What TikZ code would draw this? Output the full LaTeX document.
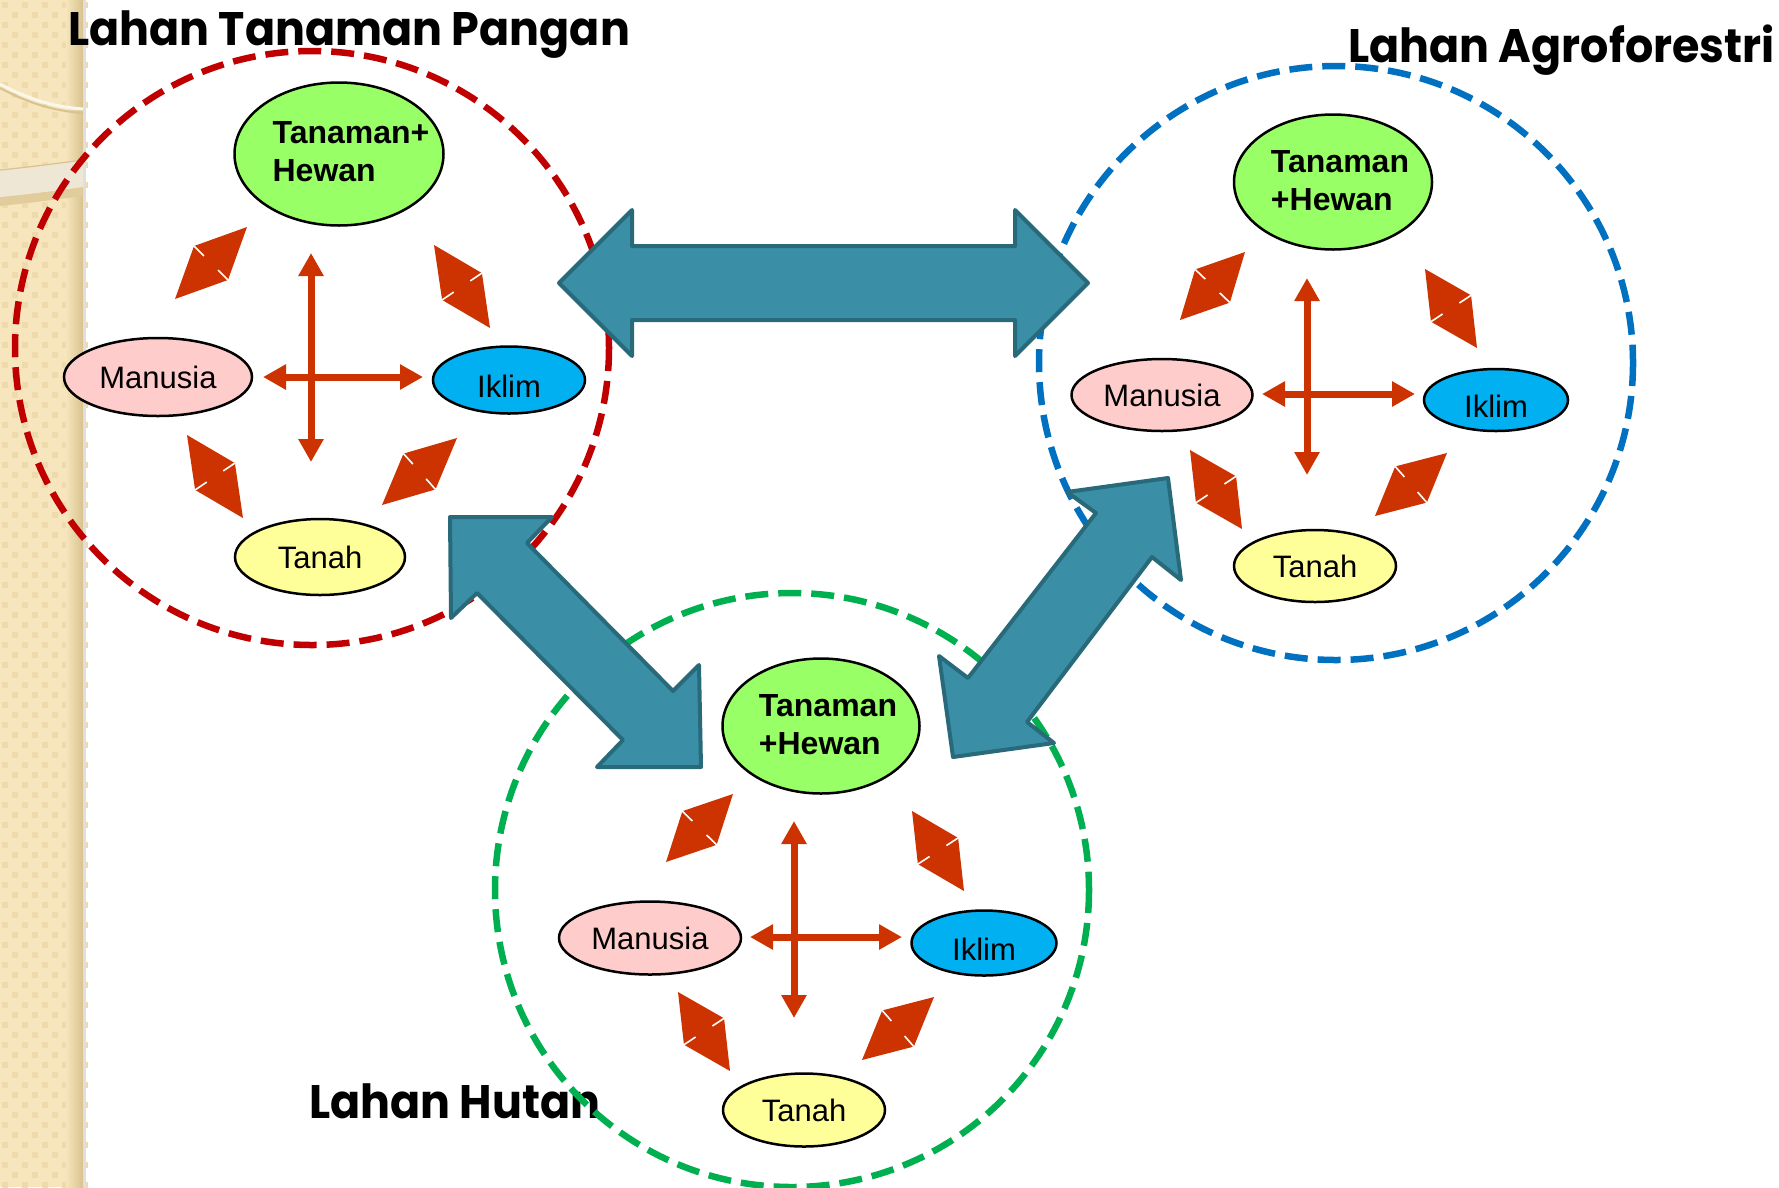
\documentclass[tikz,border=0pt]{standalone}
\usepackage{fontspec}
\setmainfont{Liberation Sans}
\newfontfamily\titlefont{Poppins}[FakeStretch=0.945]
\usetikzlibrary{shapes.geometric,arrows.meta,calc}
\definecolor{redc}{HTML}{C00000}
\definecolor{bluec}{HTML}{0070C0}
\definecolor{greenc}{HTML}{00B050}
\definecolor{arr}{HTML}{CC3300}
\definecolor{bigfill}{HTML}{3A8FA6}
\definecolor{bigline}{HTML}{286A7A}
\definecolor{tgreen}{HTML}{99FF66}
\definecolor{tpink}{HTML}{FFCCCC}
\definecolor{tblue}{HTML}{00B0F0}
\definecolor{tyellow}{HTML}{FFFF99}
\definecolor{stripc}{HTML}{F6E5BD}
\definecolor{stripd}{HTML}{EEDAAB}
\definecolor{stripe}{HTML}{D8C28E}
\definecolor{bandc}{HTML}{EEE7D5}
\tikzset{
  ring/.style={dash pattern=on 23pt off 10pt, line width=6.5pt},
  oval/.style={ellipse, draw=black, line width=2.5pt, inner sep=0pt,
    font=\fontsize{31}{37}\selectfont},
  ikl/.style={oval, fill=tblue, text height=34pt},
  boldtxt/.style={inner sep=0pt, font=\bfseries\fontsize{32}{38}\selectfont, align=left},
  crossarr/.style={draw=arr, line width=7pt, >={Triangle[width=24pt,length=23pt]}, <->},
  bigarr/.style={fill=bigfill, draw=bigline, line width=4pt, line join=round},
  ttl/.style={font=\titlefont\bfseries\fontsize{47}{50}\selectfont, anchor=base west, inner sep=0pt},
}
\newcommand\mydiamond[2]{%
  \coordinate (dm) at ($(#1)!0.5!(#2)$);
  \coordinate (ds1) at ($(dm)!24pt!90:(#2)$);
  \coordinate (ds2) at ($(dm)!24pt!-90:(#2)$);
  \fill[arr] (#1) -- (ds1) -- (#2) -- (ds2) -- cycle;
  \draw[white, line width=1.6pt] (ds1) -- ($(ds1)!14pt!(dm)$);
  \draw[white, line width=1.6pt] (ds2) -- ($(ds2)!14pt!(dm)$);
}
\begin{document}
\begin{tikzpicture}[x=1pt,y=-1pt]
\useasboundingbox (0,0) rectangle (1779,1187);
\fill[white] (0,0) rectangle (1779,1187);
% ---- decorative strip on the left
\fill[stripc] (0,0) rectangle (83,1187);
\foreach \i in {0,...,8}{
  \foreach \j in {0,...,118}{
    \pgfmathtruncatemacro\myparity{mod(\i+\j,2)}
    \ifnum\myparity=0
      \fill[stripd] (\i*10+2,\j*10+2) rectangle +(6,6);
    \fi
  }
}
\shade[left color=stripc, right color=stripe] (66,0) rectangle (83,1187);
\fill[gray!25] (83,0) rectangle (86,1187);
\draw[stripe, line width=2pt] (0,88) .. controls (30,104) and (55,111) .. (83,113);
\draw[white!70!stripc, line width=3pt] (0,84) .. controls (30,100) and (55,107) .. (83,109);
\fill[stripe!70!stripc] (0,197) .. controls (30,194) and (60,190) .. (83,187)
   -- (83,196) .. controls (60,199) and (30,203) .. (0,206) -- cycle;
\fill[bandc] (0,170) .. controls (30,167) and (60,163) .. (83,160)
   -- (83,187) .. controls (60,190) and (30,194) .. (0,197) -- cycle;
\draw[stripe, line width=1.2pt] (0,170) .. controls (30,167) and (60,163) .. (83,160);
% ---- titles
\node[ttl] (t1) at (68,45) {Lahan Tanaman Pangan};
\node[ttl] (t2) at (1348,62) {Lahan Agroforestri};
\node[ttl] (t3) at (309,1118) {Lahan Hutan};
% ---- dashed rings
\draw[ring, redc] (312,348) circle (297);
\draw[ring, bluec] (1336,363) circle (297);
\draw[ring, greenc] (792,890) circle (297);
% ---- big connecting arrows
\draw[bigarr] (559,283) -- (632,210) -- (632,246) -- (1015,246) -- (1015,210)
  -- (1088,283) -- (1015,356) -- (1015,320) -- (632,320) -- (632,356) -- cycle;
\draw[bigarr] (450,517) -- (552,517) -- (527,543) -- (673,691) -- (699,665)
  -- (701,767) -- (597,767) -- (623,740) -- (477,593) -- (451,618) -- cycle;
\draw[bigarr] (1168,478) -- (1067,492) -- (1096,513) -- (968,678) -- (939,656)
  -- (953,757) -- (1054,743) -- (1027,722) -- (1152,557) -- (1181,580) -- cycle;
% ================= left panel
\node[oval, fill=tgreen, minimum width=209pt, minimum height=143pt] (LT) at (339,154) {};
\node[boldtxt] (LTtxt) at (351,152) {Tanaman+\\Hewan};
\node[oval, fill=tpink, minimum width=188pt, minimum height=78pt] (LM) at (158,377) {Manusia};
\node[ikl, minimum width=152pt, minimum height=67pt] (LI) at (509,380) {Iklim};
\node[oval, fill=tyellow, minimum width=170pt, minimum height=76pt] (LS) at (320,557) {Tanah};
\coordinate (Lup) at (311,253); \coordinate (Ldn) at (311,462);
\coordinate (Llf) at (263,377); \coordinate (Lrt) at (423,377);
\draw[crossarr] (Lup) -- (Ldn);
\draw[crossarr] (Llf) -- (Lrt);
\coordinate (La1) at (247,227); \coordinate (La2) at (175,299);
\coordinate (Lb1) at (434,245); \coordinate (Lb2) at (490,328);
\coordinate (Lc1) at (187,435); \coordinate (Lc2) at (243,518);
\coordinate (Ld1) at (457,438); \coordinate (Ld2) at (382,505);
\mydiamond{La1}{La2}
\mydiamond{Lb1}{Lb2}
\mydiamond{Lc1}{Lc2}
\mydiamond{Ld1}{Ld2}
% ================= right panel
\node[oval, fill=tgreen, minimum width=198pt, minimum height=135pt] (RT) at (1333,182) {};
\node[boldtxt] (RTtxt) at (1340,181) {Tanaman\\+Hewan};
\node[oval, fill=tpink, minimum width=181pt, minimum height=72pt] (RM) at (1162,395) {Manusia};
\node[ikl, minimum width=144pt, minimum height=62pt] (RI) at (1496,400) {Iklim};
\node[oval, fill=tyellow, minimum width=162pt, minimum height=72pt] (RS) at (1315,566) {Tanah};
\coordinate (Rup) at (1307,278); \coordinate (Rdn) at (1307,475);
\coordinate (Rlf) at (1262,394); \coordinate (Rrt) at (1415,394);
\draw[crossarr] (Rup) -- (Rdn);
\draw[crossarr] (Rlf) -- (Rrt);
\coordinate (Ra1) at (1245,252); \coordinate (Ra2) at (1180,320);
\coordinate (Rb1) at (1425,269); \coordinate (Rb2) at (1477,348);
\coordinate (Rc1) at (1190,450); \coordinate (Rc2) at (1242,529);
\coordinate (Rd1) at (1447,453); \coordinate (Rd2) at (1375,516);
\mydiamond{Ra1}{Ra2}
\mydiamond{Rb1}{Rb2}
\mydiamond{Rc1}{Rc2}
\mydiamond{Rd1}{Rd2}
% ================= bottom panel
\node[oval, fill=tgreen, minimum width=197pt, minimum height=135pt] (BT) at (821,726) {};
\node[boldtxt] (BTtxt) at (828,725) {Tanaman\\+Hewan};
\node[oval, fill=tpink, minimum width=182pt, minimum height=73pt] (BM) at (650,938) {Manusia};
\node[ikl, minimum width=145pt, minimum height=65pt] (BI) at (984,943) {Iklim};
\node[oval, fill=tyellow, minimum width=162pt, minimum height=73pt] (BS) at (804,1110) {Tanah};
\coordinate (Bup) at (794,821); \coordinate (Bdn) at (794,1018);
\coordinate (Blf) at (750,937); \coordinate (Brt) at (902,937);
\draw[crossarr] (Bup) -- (Bdn);
\draw[crossarr] (Blf) -- (Brt);
\coordinate (Ba1) at (733,794); \coordinate (Ba2) at (666,862);
\coordinate (Bb1) at (912,811); \coordinate (Bb2) at (964,891);
\coordinate (Bc1) at (678,992); \coordinate (Bc2) at (730,1071);
\coordinate (Bd1) at (934,997); \coordinate (Bd2) at (862,1060);
\mydiamond{Ba1}{Ba2}
\mydiamond{Bb1}{Bb2}
\mydiamond{Bc1}{Bc2}
\mydiamond{Bd1}{Bd2}
\end{tikzpicture}
\end{document}
